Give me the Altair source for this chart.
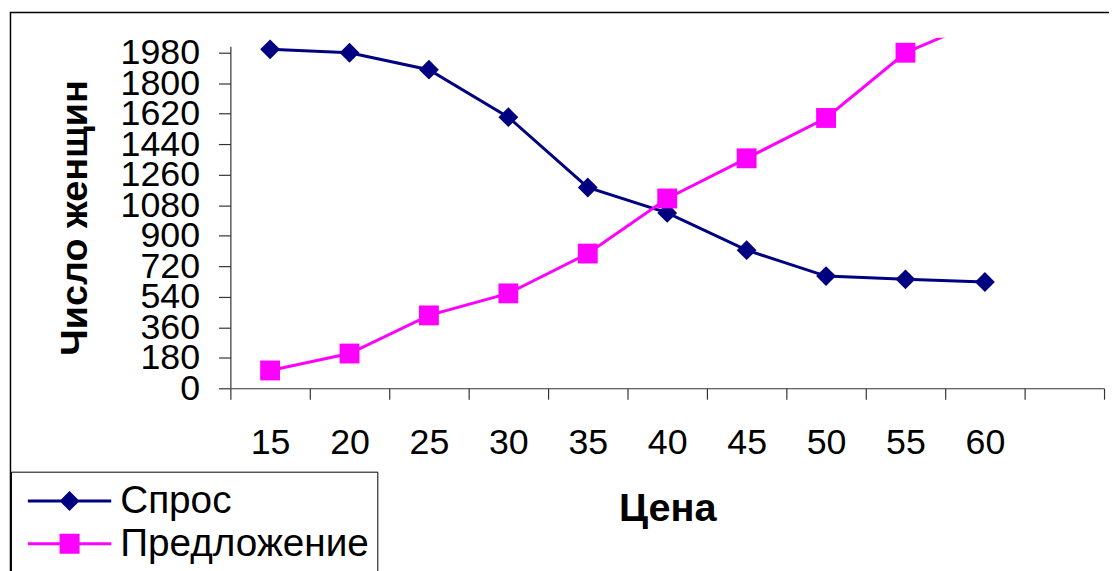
import altair as alt
import pandas as pd

# ---- data ----
prices = [15, 20, 25, 30, 35, 40, 45, 50, 55, 60]
x_domain = [15, 20, 25, 30, 35, 40, 45, 50, 55, 60, 65]  # extra empty category like the original
demand = [2000, 1980, 1880, 1600, 1185, 1035, 815, 662, 643, 627]      # Спрос
supply = [105, 205, 430, 560, 795, 1120, 1357, 1595, 1980, 2180]      # Предложение
series_names = ["Спрос", "Предложение"]
series_colors = ["#000080", "#FF00FF"]
y_ticks = [0, 180, 360, 540, 720, 900, 1080, 1260, 1440, 1620, 1800, 1980]
axis_max = 2015   # top of the drawn value axis
view_max = 2068   # top of the plotting area (lines are clipped there)

rows = []
for p, d, s in zip(prices, demand, supply):
    rows.append({"price": p, "series": "Спрос", "value": d})
    rows.append({"price": p, "series": "Предложение", "value": s})
df = pd.DataFrame(rows)

FONT = "Liberation Sans"
AXIS_COLOR = "#333333"

x_enc = alt.X(
    "price:O",
    scale=alt.Scale(type="band", domain=x_domain, paddingInner=0, paddingOuter=0),
    bandPosition=0.5,
    axis=alt.Axis(
        title="Цена",
        titleFont=FONT, titleFontSize=40, titleFontWeight="bold", titleColor="black",
        titleX=440, titleY=133, titleAlign="center", titleBaseline="alphabetic",
        labelFont=FONT, labelFontSize=36, labelColor="black", labelAngle=0,
        labelPadding=27, tickSize=11, tickBand="extent",
        tickColor=AXIS_COLOR, domainColor=AXIS_COLOR, domainWidth=1.2, tickWidth=1.2,
        labelExpr="datum.value == 65 ? '' : datum.label",
        grid=False, zindex=1,
    ),
)
y_scale = alt.Scale(domain=[0, view_max], nice=False, zero=True)
y_axis = alt.Axis(
    values=y_ticks, format="d",
    title="Число женщин",
    titleFont=FONT, titleFontSize=38, titleFontWeight="bold", titleColor="black",
    titleAngle=270, titleX=-145, titleY=181, titleAlign="center", titleBaseline="alphabetic",
    labelFont=FONT, labelFontSize=36, labelColor="black",
    labelPadding=19, tickSize=12, labelOverlap=False, labelFlush=False,
    tickColor=AXIS_COLOR, tickWidth=1.2, domain=False,
    grid=False, zindex=1,
)
y_enc = alt.Y("value:Q", scale=y_scale, axis=y_axis)

color_scale = alt.Scale(domain=series_names, range=series_colors)

frame = alt.Chart(pd.DataFrame({"k": [0]})).mark_rect(
    fill="white", fillOpacity=0, stroke="black", strokeWidth=1.5, clip=False
).encode(
    x=alt.value(-221.5), x2=alt.value(1000),
    y=alt.value(-25.5), y2=alt.value(700),
)

# value-axis line, from 0 up to the axis maximum
y_axis_line = alt.Chart(pd.DataFrame({"value": [0], "value_top": [axis_max]})).mark_rule(
    color=AXIS_COLOR, strokeWidth=1.2
).encode(
    x=alt.value(0.5),
    y=y_enc,
    y2="value_top:Q",
)

lines = alt.Chart(df).mark_line(strokeWidth=3, clip=True).encode(
    x=x_enc, y=y_enc,
    color=alt.Color("series:N", scale=color_scale, legend=None),
    detail="series:N",
)

points = alt.Chart(df).transform_filter(
    alt.datum.value <= axis_max
).mark_point(filled=True, size=400, opacity=1).encode(
    x=x_enc, y=y_enc,
    color=alt.Color("series:N", scale=color_scale, legend=None),
    shape=alt.Shape("series:N", scale=alt.Scale(domain=series_names, range=["diamond", "square"]), legend=None),
)

legend_paths = [
    "M-1,-0.036H1V0.036H-1Z M0,-0.24L0.24,0L0,0.24L-0.24,0Z",
    "M-1,-0.036H1V0.036H-1Z M-0.24,-0.24H0.24V0.24H-0.24Z",
]
legend_cfg = alt.Legend(
    title=None, orient="none", legendX=-221, legendY=437, direction="vertical",
    symbolSize=7056, symbolStrokeWidth=0, symbolOpacity=1,
    clipHeight=43, rowPadding=0, padding=8, symbolOffset=9, labelOffset=9,
    labelFont=FONT, labelFontSize=39, labelColor="black", labelLimit=600,
    strokeColor="black", fillColor="white",
)
legend_layer = alt.Chart(df).mark_point(filled=True, opacity=0).encode(
    x=x_enc, y=y_enc,
    color=alt.Color("series:N", scale=color_scale, legend=legend_cfg),
    shape=alt.Shape("series:N", scale=alt.Scale(domain=series_names, range=legend_paths), legend=legend_cfg),
)

chart = alt.layer(frame, lines, points, legend_layer, y_axis_line).resolve_scale(
    color="independent", shape="independent"
).properties(
    width=880, height=353,
    autosize=alt.AutoSizeParams(type="none"),
    padding={"left": 224, "top": 28, "right": 5, "bottom": 182},
).configure_view(stroke=None)

chart.save("out.html", embed_options={"renderer": "svg", "actions": False})
